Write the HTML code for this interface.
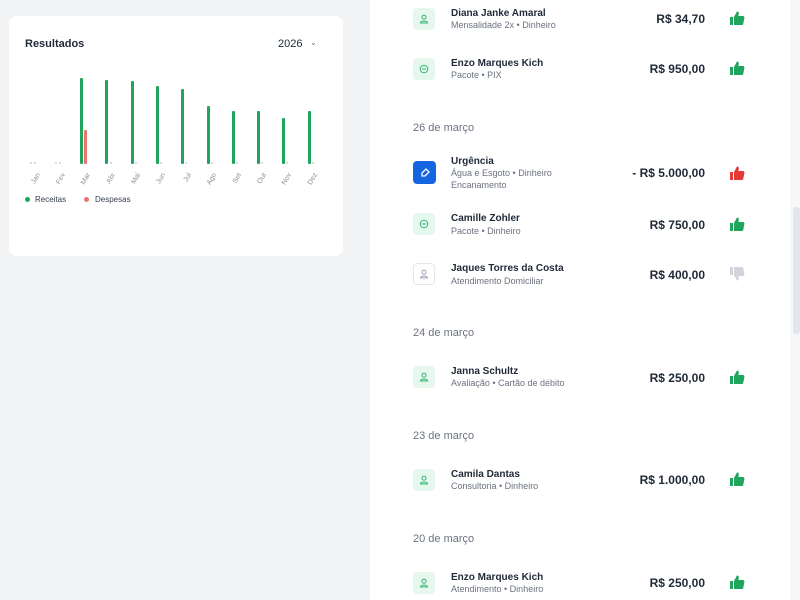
<!DOCTYPE html>
<html><head><meta charset="utf-8">
<style>
*{margin:0;padding:0;box-sizing:border-box}
body{width:800px;height:600px;overflow:hidden;background:#f3f4f6;font-family:"Liberation Sans",sans-serif;position:relative}
.card{position:absolute;left:9px;top:16px;width:334px;height:240px;background:#fff;border-radius:8px}
.abs{position:absolute}
.panel{position:absolute;left:370px;top:0;width:420px;height:600px;background:#fff}
.track{position:absolute;left:790px;top:0;width:10px;height:600px;background:#f6f7f9}
.thumbbar{position:absolute;left:793px;top:207px;width:7px;height:127px;background:#e3e6ea;border-radius:3px}
.ic{position:absolute;left:413px;width:22px;height:22px;border-radius:4px;background:#e6f7ee;display:flex;align-items:center;justify-content:center}
.nm{position:absolute;left:451px;font-size:10px;font-weight:bold;color:#1f2937}
.sb{position:absolute;left:451px;font-size:9px;color:#6b7280}
.am{position:absolute;right:95px;font-size:12px;font-weight:bold;color:#1f2937;text-align:right}
.th{position:absolute;left:729px;width:16px;height:16px}
.dt{position:absolute;left:413px;font-size:11px;color:#6b7280}
.lbl{position:absolute;top:172px;font-size:7px;color:#8b929c;transform:rotate(-60deg);transform-origin:right top;text-align:right;width:20px}
.bar{position:absolute;width:3px;background:#1fa55c;border-radius:1px}
.dot{position:absolute;top:162px;width:2px;height:2px;background:#d8dce1}
</style></head><body>
<div class="card"></div>
<div class="abs" style="left:25px;top:38px;font-size:11px;font-weight:bold;color:#1f2937">Resultados</div>
<div class="abs" style="left:278px;top:38px;font-size:11px;color:#1f2937">2026</div>
<div class="abs" style="left:310px;top:38px;font-size:8px;color:#6b7280">⌄</div>

<div class="dot" style="left:30px"></div><div class="dot" style="left:34px"></div>
<div class="dot" style="left:55px"></div><div class="dot" style="left:59px"></div>
<div class="dot" style="left:110px"></div><div class="dot" style="left:135px"></div>
<div class="dot" style="left:160px"></div><div class="dot" style="left:185px"></div>
<div class="dot" style="left:211px"></div><div class="dot" style="left:236px"></div>
<div class="dot" style="left:261px"></div><div class="dot" style="left:286px"></div>
<div class="dot" style="left:312px"></div>

<div class="bar" style="left:80px;top:78px;height:86px"></div>
<div class="bar" style="left:84px;top:130px;height:34px;background:#e8766f"></div>
<div class="bar" style="left:105px;top:80px;height:84px"></div>
<div class="bar" style="left:131px;top:81px;height:83px"></div>
<div class="bar" style="left:156px;top:86px;height:78px"></div>
<div class="bar" style="left:181px;top:89px;height:75px"></div>
<div class="bar" style="left:207px;top:106px;height:58px"></div>
<div class="bar" style="left:232px;top:111px;height:53px"></div>
<div class="bar" style="left:257px;top:111px;height:53px"></div>
<div class="bar" style="left:282px;top:118px;height:46px"></div>
<div class="bar" style="left:308px;top:111px;height:53px"></div>

<div class="lbl" style="left:16px">Jan</div>
<div class="lbl" style="left:41px">Fev</div>
<div class="lbl" style="left:66px">Mar</div>
<div class="lbl" style="left:91px">Abr</div>
<div class="lbl" style="left:116px">Mai</div>
<div class="lbl" style="left:141px">Jun</div>
<div class="lbl" style="left:167px">Jul</div>
<div class="lbl" style="left:192px">Ago</div>
<div class="lbl" style="left:217px">Set</div>
<div class="lbl" style="left:242px">Out</div>
<div class="lbl" style="left:267px">Nov</div>
<div class="lbl" style="left:293px">Dez</div>

<div class="abs" style="left:25px;top:197px;width:5px;height:5px;border-radius:50%;background:#1fa55c"></div>
<div class="abs" style="left:35px;top:195px;font-size:8px;color:#374151">Receitas</div>
<div class="abs" style="left:84px;top:197px;width:5px;height:5px;border-radius:50%;background:#e8766f"></div>
<div class="abs" style="left:95px;top:195px;font-size:8px;color:#374151">Despesas</div>

<div class="panel"></div>
<div class="track"></div>
<div class="thumbbar"></div>

<svg width="0" height="0" style="position:absolute"><defs>
<symbol id="up" viewBox="0 0 16 16"><path d="M1 7h3v8H1z M5 7 L8 1.5 C9.5 1.5 10 2.5 9.8 4 L9.3 6 H14 C15 6 15.6 7 15.4 8 L14.2 14 C14 14.7 13.4 15 12.8 15 H5z"/></symbol>
<symbol id="user" viewBox="0 0 10 10"><circle cx="5" cy="3.2" r="2" fill="none" stroke-width="1"/><path d="M1.5 9 C1.5 6.5 8.5 6.5 8.5 9 Z" fill="none" stroke-width="1"/></symbol>
</defs></svg>

<div class="ic" style="top:8px"><svg width="10" height="10" stroke="#34b772"><use href="#user"/></svg></div>
<div class="nm" style="top:8px">Diana Janke Amaral</div>
<div class="sb" style="top:20px">Mensalidade 2x • Dinheiro</div>
<div class="am" style="top:12px">R$ 34,70</div>
<svg class="th" style="top:10px" fill="#1fa55c"><use href="#up"/></svg>

<div class="ic" style="top:58px"><svg width="10" height="10"><circle cx="5" cy="5" r="3.8" fill="none" stroke="#34b772"/><line x1="3" y1="5" x2="7" y2="5" stroke="#34b772"/></svg></div>
<div class="nm" style="top:58px">Enzo Marques Kich</div>
<div class="sb" style="top:70px">Pacote • PIX</div>
<div class="am" style="top:62px">R$ 950,00</div>
<svg class="th" style="top:60px" fill="#1fa55c"><use href="#up"/></svg>

<div class="dt" style="top:122px">26 de março</div>

<div class="ic" style="top:161px;background:#1565e0;width:23px;height:23px"><svg width="10" height="10"><path d="M2 8 L2 5 L6 1 L9 4 L5 8 Z" fill="none" stroke="#fff" stroke-width="1.3"/></svg></div>
<div class="nm" style="top:156px">Urgência</div>
<div class="sb" style="top:168px">Água e Esgoto • Dinheiro</div>
<div class="sb" style="top:180px">Encanamento</div>
<div class="am" style="top:166px">- R$ 5.000,00</div>
<svg class="th" style="top:165px" fill="#e53935"><use href="#up"/></svg>

<div class="ic" style="top:213px"><svg width="10" height="10"><circle cx="5" cy="5" r="3.8" fill="none" stroke="#34b772"/><line x1="3" y1="5" x2="7" y2="5" stroke="#34b772"/></svg></div>
<div class="nm" style="top:213px">Camille Zohler</div>
<div class="sb" style="top:226px">Pacote • Dinheiro</div>
<div class="am" style="top:218px">R$ 750,00</div>
<svg class="th" style="top:216px" fill="#1fa55c"><use href="#up"/></svg>

<div class="ic" style="top:263px;background:#fff;border:1px solid #e5e7eb"><svg width="10" height="10" stroke="#9ca3af"><use href="#user"/></svg></div>
<div class="nm" style="top:263px">Jaques Torres da Costa</div>
<div class="sb" style="top:276px">Atendimento Domiciliar</div>
<div class="am" style="top:268px">R$ 400,00</div>
<svg class="th" style="top:266px;transform:scaleY(-1)" fill="#d1d5db"><use href="#up"/></svg>

<div class="dt" style="top:327px">24 de março</div>
<div class="ic" style="top:366px"><svg width="10" height="10" stroke="#34b772"><use href="#user"/></svg></div>
<div class="nm" style="top:366px">Janna Schultz</div>
<div class="sb" style="top:378px">Avaliação • Cartão de débito</div>
<div class="am" style="top:371px">R$ 250,00</div>
<svg class="th" style="top:369px" fill="#1fa55c"><use href="#up"/></svg>

<div class="dt" style="top:430px">23 de março</div>
<div class="ic" style="top:469px"><svg width="10" height="10" stroke="#34b772"><use href="#user"/></svg></div>
<div class="nm" style="top:469px">Camila Dantas</div>
<div class="sb" style="top:481px">Consultoria • Dinheiro</div>
<div class="am" style="top:473px">R$ 1.000,00</div>
<svg class="th" style="top:471px" fill="#1fa55c"><use href="#up"/></svg>

<div class="dt" style="top:533px">20 de março</div>
<div class="ic" style="top:572px"><svg width="10" height="10" stroke="#34b772"><use href="#user"/></svg></div>
<div class="nm" style="top:572px">Enzo Marques Kich</div>
<div class="sb" style="top:584px">Atendimento • Dinheiro</div>
<div class="am" style="top:576px">R$ 250,00</div>
<svg class="th" style="top:574px" fill="#1fa55c"><use href="#up"/></svg>
</body></html>
